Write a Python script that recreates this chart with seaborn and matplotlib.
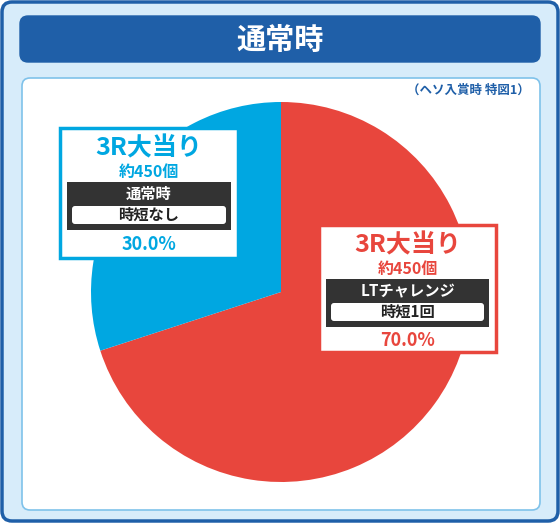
import matplotlib
matplotlib.use("Agg")
import matplotlib.pyplot as plt
from matplotlib.patches import FancyBboxPatch, Rectangle
import seaborn as sns

sns.set_theme(style="white")
plt.rcParams['font.family'] = ['Noto Sans CJK JP', 'DejaVu Sans']

title = "通常時"
note = "（ヘソ入賞時 特図1）"
labels = ["3R大当り", "3R大当り"]
subs = ["約450個", "約450個"]
modes = ["LTチャレンジ", "通常時"]
jitan = ["時短1回", "時短なし"]
shares = [70.0, 30.0]
colors = ["#e8463d", "#00a7e1"]

W, H = 560, 523
fig = plt.figure(figsize=(5.6, 5.23), dpi=100)
bg = fig.add_axes([0, 0, 1, 1])
bg.set_xlim(0, W); bg.set_ylim(H, 0); bg.axis("off")

def rbox(x0, y0, x1, y1, fc, ec, lw=1, r=6, z=1):
    bg.add_patch(FancyBboxPatch((x0, y0), x1 - x0, y1 - y0,
                 boxstyle=f"round,pad=0,rounding_size={r}", fc=fc, ec=ec, lw=lw, zorder=z))

rbox(2, 2, 558, 521, "#d7ecfa", "#1f5fa8", lw=2.5, r=10)
rbox(20, 16, 540, 62, "#1f5fa8", "#1f5fa8", r=8, z=2)
bg.text(280, 40, title, color="white", fontsize=21, fontweight="bold", ha="center", va="center", zorder=3)
rbox(22, 78, 540, 510, "white", "#7fc2ea", lw=1.2, r=8, z=2)
bg.text(530, 90, note, color="#1f5fa8", fontsize=9, fontweight="bold", ha="right", va="center", zorder=3)

pax = fig.add_axes([91 / W, 1 - 482 / H, 380 / W, 380 / H])
pax.pie(shares, colors=colors, startangle=90, counterclock=False,
        wedgeprops=dict(linewidth=0))
pax.set_xlim(-1, 1); pax.set_ylim(-1, 1)
pax.set_aspect("equal")
pax.set_zorder(3)
bg.set_zorder(0)

ov = fig.add_axes([0, 0, 1, 1]); ov.set_xlim(0, W); ov.set_ylim(H, 0); ov.axis("off"); ov.set_zorder(5)

def label_box(x0, y0, x1, y1, col, i):
    ov.add_patch(Rectangle((x0, y0), x1 - x0, y1 - y0, fc="white", ec=col, lw=2.5))
    cx = (x0 + x1) / 2
    ov.text(cx, y0 + 20, labels[i], color=col, fontsize=18, fontweight="bold", ha="center", va="center")
    ov.text(cx, y0 + 44, subs[i], color=col, fontsize=11.5, fontweight="bold", ha="center", va="center")
    ov.add_patch(Rectangle((x0 + 7, y0 + 54), x1 - x0 - 14, 48, fc="#333333", ec="none"))
    ov.text(cx, y0 + 66, modes[i], color="white", fontsize=11, fontweight="bold", ha="center", va="center")
    ov.add_patch(FancyBboxPatch((x0 + 12, y0 + 78), x1 - x0 - 24, 18,
                 boxstyle="round,pad=0,rounding_size=3", fc="white", ec="none"))
    ov.text(cx, y0 + 87, jitan[i], color="#222222", fontsize=11, fontweight="bold", ha="center", va="center")
    ov.text(cx, y0 + 116, f"{shares[i]:.1f}%", color=col, fontsize=13, fontweight="bold", ha="center", va="center")

label_box(319, 225, 496, 352, colors[0], 0)
label_box(60, 128, 238, 258, colors[1], 1)

fig.savefig("out.png", dpi=100)
